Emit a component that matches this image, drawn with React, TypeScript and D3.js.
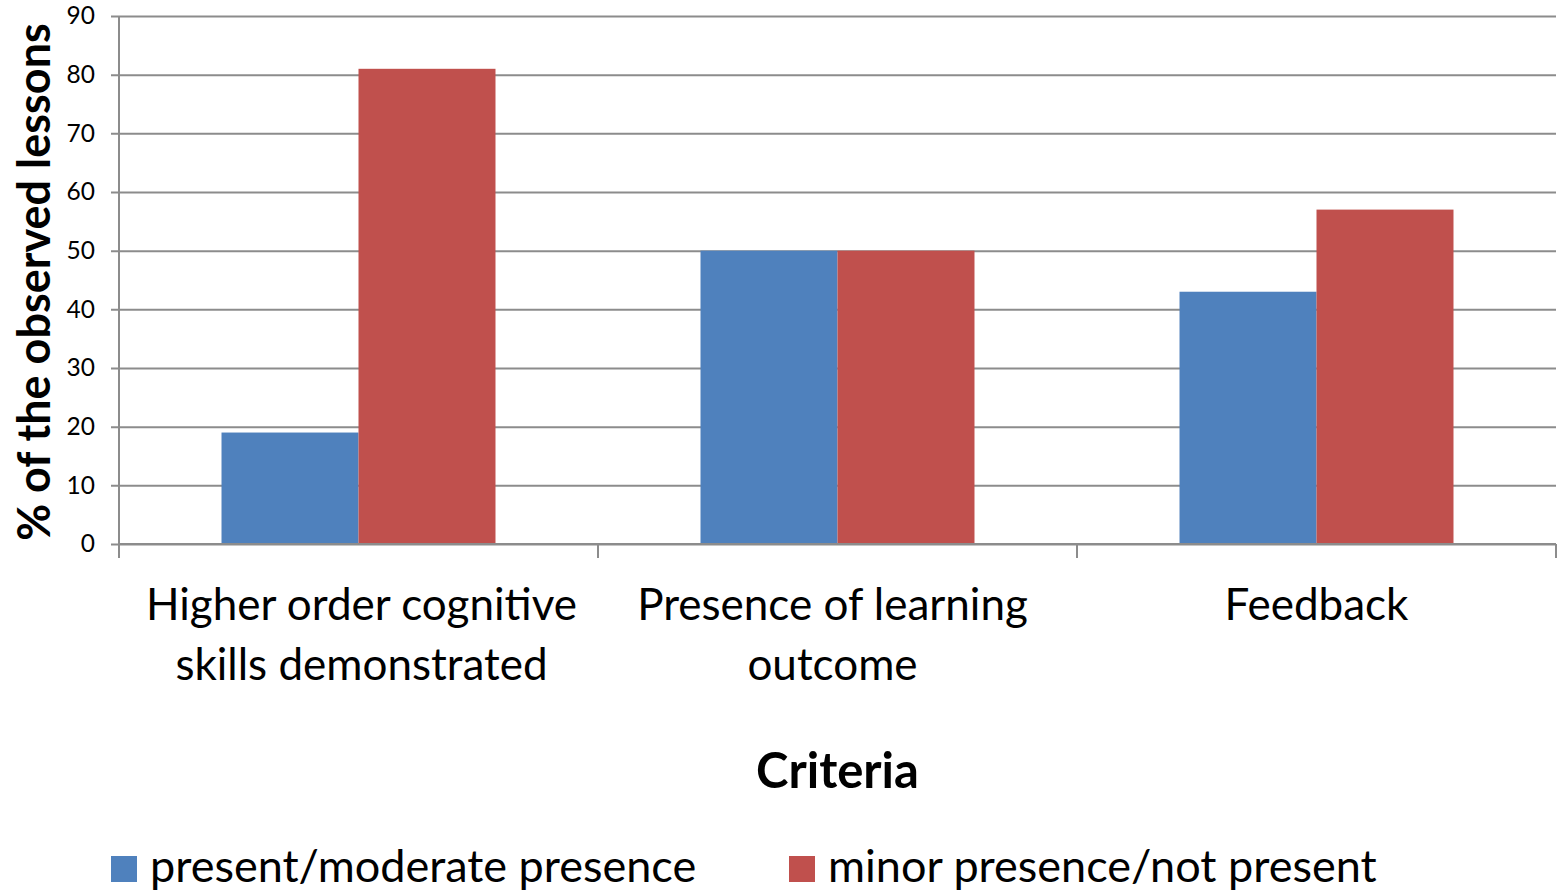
import * as d3 from "d3";
import React, { useEffect, useRef } from "react";

const categories = [
  ["Higher order cognitive", "skills demonstrated"],
  ["Presence of learning", "outcome"],
  ["Feedback"],
];
const seriesNames = ["present/moderate presence", "minor presence/not present"];
const presentValues = [19, 50, 43];
const notPresentValues = [81, 50, 57];
const yTicks = [0, 10, 20, 30, 40, 50, 60, 70, 80, 90];
const colors = ["#4f81bd", "#c0504d"];
// small nudges so the wrapped labels sit where the original ones do
const labelNudge = [3, -5, 0];

const App = () => {
  const ref = useRef<SVGSVGElement>(null);
  const width = 1561;
  const height = 896;
  const margin = { left: 119, top: 16, right: 5, bottom: 352 };
  const font = "Lato, 'Open Sans', sans-serif";

  useEffect(() => {
    const svg = d3.select(ref.current);
    svg.selectAll("*").remove();

    const chartWidth = width - margin.left - margin.right;
    const chartHeight = height - margin.top - margin.bottom;

    const idx = categories.map((_, i) => i);
    const x = d3.scaleBand<number>().domain(idx).range([0, chartWidth]).paddingInner(0).paddingOuter(0);
    const inner = d3
      .scaleBand<number>()
      .domain([0, 1])
      .range([x.bandwidth() * 0.214, x.bandwidth() * 0.786]);
    const y = d3.scaleLinear().domain([0, 90]).range([chartHeight, 0]);

    const g = svg.append("g").attr("transform", `translate(${margin.left} ${margin.top})`);

    // gridlines + y axis
    const yAxis = d3.axisLeft(y).tickValues(yTicks).tickSize(-chartWidth).tickPadding(24);
    const yAxisG = g.append("g").call(yAxis);
    yAxisG.select(".domain").remove();
    yAxisG.selectAll(".tick line").attr("stroke", "#8c8c8c").attr("stroke-width", 2).attr("x1", -8);
    yAxisG
      .selectAll(".tick text")
      .attr("font-family", font)
      .attr("font-size", 24.5)
      .attr("fill", "#000");

    g.append("line")
      .attr("x1", 0)
      .attr("x2", 0)
      .attr("y1", 0)
      .attr("y2", chartHeight + 14)
      .attr("stroke", "#8c8c8c")
      .attr("stroke-width", 2);

    // bars
    const series = [presentValues, notPresentValues];
    series.forEach((vals, s) => {
      g.append("g")
        .selectAll("rect")
        .data(vals)
        .join("rect")
        .attr("x", (_, i) => (x(i) as number) + (inner(s) as number))
        .attr("y", (d) => y(d))
        .attr("width", inner.bandwidth())
        .attr("height", (d) => chartHeight - y(d))
        .attr("fill", colors[s]);
    });

    // x axis
    g.append("line")
      .attr("x1", 0)
      .attr("x2", chartWidth)
      .attr("y1", chartHeight)
      .attr("y2", chartHeight)
      .attr("stroke", "#8c8c8c")
      .attr("stroke-width", 2);
    const bounds = [...idx.map((i) => x(i) as number), chartWidth];
    g.append("g")
      .selectAll("line")
      .data(bounds)
      .join("line")
      .attr("x1", (d) => d)
      .attr("x2", (d) => d)
      .attr("y1", chartHeight)
      .attr("y2", chartHeight + 14)
      .attr("stroke", "#8c8c8c")
      .attr("stroke-width", 2);

    const labels = g.append("g");
    categories.forEach((lines, i) => {
      const cx = (x(i) as number) + x.bandwidth() / 2 + labelNudge[i];
      const t = labels
        .append("text")
        .attr("x", cx)
        .attr("y", chartHeight + 76)
        .attr("text-anchor", "middle")
        .attr("font-family", font)
        .attr("font-size", 44)
        .attr("fill", "#000");
      lines.forEach((l, k) => {
        t.append("tspan")
          .attr("x", cx)
          .attr("dy", k === 0 ? 0 : 60)
          .text(l);
      });
    });

    // axis titles
    g.append("text")
      .attr("transform", "rotate(-90)")
      .attr("x", -266)
      .attr("y", -69)
      .attr("text-anchor", "middle")
      .attr("font-family", font)
      .attr("font-weight", "bold")
      .attr("font-size", 45)
      .text("% of the observed lessons");

    g.append("text")
      .attr("x", chartWidth / 2)
      .attr("y", chartHeight + 244)
      .attr("text-anchor", "middle")
      .attr("font-family", font)
      .attr("font-weight", "bold")
      .attr("font-size", 49)
      .text("Criteria");

    // legend
    const legendX = [111, 789];
    const legend = svg.append("g");
    seriesNames.forEach((name, s) => {
      legend
        .append("rect")
        .attr("x", legendX[s])
        .attr("y", 856)
        .attr("width", 26)
        .attr("height", 26)
        .attr("fill", colors[s]);
      legend
        .append("text")
        .attr("x", legendX[s] + 39)
        .attr("y", 882)
        .attr("font-family", font)
        .attr("font-size", 45)
        .text(name);
    });
  }, []);

  return (
    <svg
      ref={ref}
      width={width}
      height={height}
      style={{ position: "absolute", left: 0, top: 0, background: "#fff" }}
    />
  );
};

export default App;
